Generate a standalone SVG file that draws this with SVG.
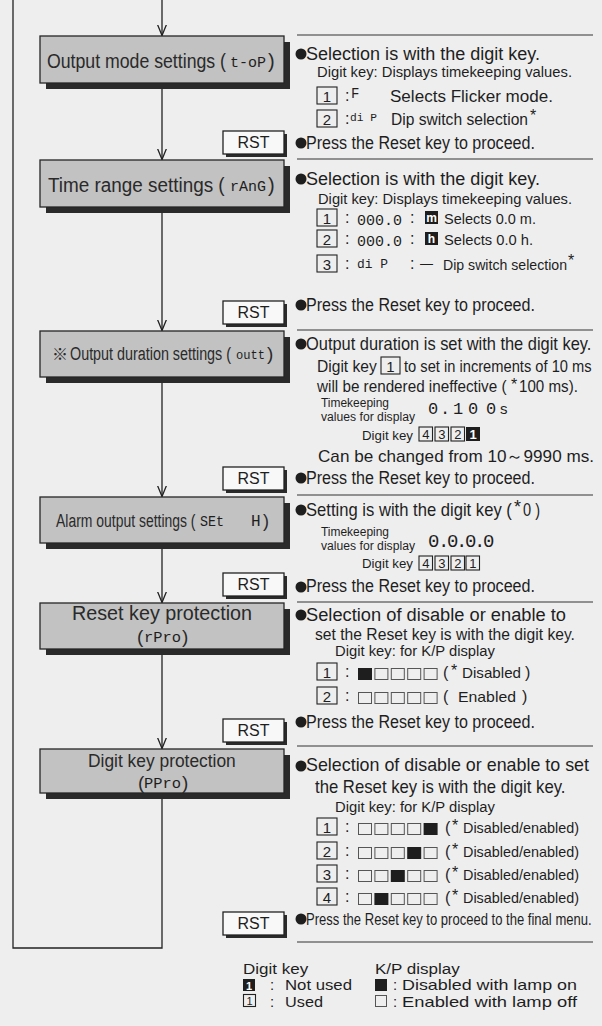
<svg xmlns="http://www.w3.org/2000/svg" width="602" height="1026" viewBox="0 0 602 1026">
<defs>
<style>
.t{font-family:"Liberation Sans",Arial,sans-serif;fill:#1e1e1e}
.f18{font-size:18px}.f17{font-size:17px}.f16{font-size:16px}.f15{font-size:15px}.f13{font-size:12px}
.seg{font-family:"Liberation Mono","DejaVu Sans Mono",monospace;fill:#1e1e1e}
.body{fill:#c2c2c2;stroke:#262626;stroke-width:1.3}
.shadow{fill:#2a2a2a}
.face{fill:#f8f8f8;stroke:#222;stroke-width:1.3}
.key{fill:none;stroke:#222;stroke-width:1.1}
.keyf{fill:#1e1e1e}
.sq{fill:none;stroke:#555;stroke-width:1}
.sqf{fill:#1e1e1e}
.sep{stroke:#333;stroke-width:1.2}
.conn{stroke:#222;stroke-width:1.3;fill:none}
.bul{fill:#1e1e1e}
.lbl{font-family:"Liberation Sans",Arial,sans-serif;fill:#2a2a2a}
.rst{font-family:"Liberation Sans",Arial,sans-serif;font-size:16px;fill:#1e1e1e;text-anchor:middle}
.kn{font-family:"Liberation Sans",Arial,sans-serif;font-size:15px;fill:#1e1e1e;text-anchor:middle}
.kw{font-family:"Liberation Sans",Arial,sans-serif;font-weight:bold;fill:#fff;text-anchor:middle}
.ks{font-family:"Liberation Sans",Arial,sans-serif;fill:#1e1e1e;text-anchor:middle}
</style>
<marker id="arr" markerUnits="userSpaceOnUse" markerWidth="14" markerHeight="12" viewBox="0 0 14 12" refX="11" refY="6" orient="auto"><path d="M0,1.5 L11,6 L0,10.5" fill="none" stroke="#222" stroke-width="1.3"/></marker>
</defs>
<rect x="0" y="0" width="602" height="1026" fill="#eeeeee"/>

<g id="connectors" class="conn">
<path d="M162,0 V35.5" marker-end="url(#arr)"/>
<path d="M162,83 V159.5" marker-end="url(#arr)"/>
<path d="M162,207 V330.5" marker-end="url(#arr)"/>
<path d="M162,377 V496.5" marker-end="url(#arr)"/>
<path d="M162,543 V602.5" marker-end="url(#arr)"/>
<path d="M162,649 V748.5" marker-end="url(#arr)"/>
<path d="M162,793 V948 H13 V0"/>
</g>

<g id="node-output-mode">
<rect class="shadow" x="46" y="42" width="244" height="47"/>
<rect class="body" x="40" y="36" width="244" height="47"/>
<text class="lbl" font-size="20" transform="translate(47,68) scale(0.885,1)">Output mode settings (</text>
<text class="seg" font-size="15.2" x="230" y="67" textLength="36" lengthAdjust="spacingAndGlyphs">t-oP</text>
<text class="lbl" font-size="20" x="268" y="68">)</text>
</g>
<g id="node-time-range">
<rect class="shadow" x="46" y="166" width="244" height="47"/>
<rect class="body" x="40" y="160" width="244" height="47"/>
<text class="lbl" font-size="20" transform="translate(48,192) scale(0.945,1)">Time range settings (</text>
<text class="seg" font-size="15.2" x="230" y="191" textLength="36" lengthAdjust="spacingAndGlyphs">rAnG</text>
<text class="lbl" font-size="20" x="268" y="192">)</text>
</g>
<g id="node-output-duration">
<rect class="shadow" x="46" y="337" width="244" height="46"/>
<rect class="body" x="40" y="331" width="244" height="46"/>
<text x="52" y="360" font-size="16" fill="#2a2a2a" font-family="'Noto Sans CJK JP','DejaVu Sans',sans-serif">※</text>
<text class="lbl" font-size="19" transform="translate(70,360) scale(0.755,1)">Output duration settings (</text>
<text class="seg" font-size="12.4" x="236" y="359" textLength="29" lengthAdjust="spacingAndGlyphs">outt</text>
<text class="lbl" font-size="19" x="267" y="360">)</text>
</g>
<g id="node-alarm-output">
<rect class="shadow" x="46" y="503" width="244" height="46"/>
<rect class="body" x="40" y="497" width="244" height="46"/>
<text class="lbl" font-size="18" transform="translate(56,527) scale(0.775,1)">Alarm output settings (</text>
<text class="seg" font-size="13.8" x="200" y="526" textLength="24" lengthAdjust="spacingAndGlyphs">SEt</text>
<text class="seg" font-size="16" x="251" y="526">H</text>
<text class="lbl" font-size="18" x="263" y="527">)</text>
</g>
<g id="node-reset-key-protection">
<rect class="shadow" x="46" y="609" width="244" height="46"/>
<rect class="body" x="40" y="603" width="244" height="46"/>
<text class="lbl" font-size="19.5" x="72" y="620" textLength="180" lengthAdjust="spacingAndGlyphs">Reset key protection</text>
<text class="lbl" font-size="19" x="137" y="643">(</text>
<text class="seg" font-size="15.5" x="144" y="642" textLength="37" lengthAdjust="spacingAndGlyphs">rPro</text>
<text class="lbl" font-size="19" x="182" y="643">)</text>
</g>
<g id="node-digit-key-protection">
<rect class="shadow" x="46" y="755" width="244" height="44"/>
<rect class="body" x="40" y="749" width="244" height="44"/>
<text class="lbl" font-size="19" transform="translate(88,767) scale(0.915,1)">Digit key protection</text>
<text class="lbl" font-size="19" x="138" y="789">(</text>
<text class="seg" font-size="15.5" x="144" y="788" textLength="37" lengthAdjust="spacingAndGlyphs">PPro</text>
<text class="lbl" font-size="19" x="182" y="789">)</text>
</g>

<g id="rst-1"><rect class="shadow" x="226" y="134" width="61" height="23"/><rect class="face" x="223" y="131" width="61" height="23"/><text class="rst" x="253.5" y="148">RST</text></g>
<g id="rst-2"><rect class="shadow" x="226" y="304" width="61" height="23"/><rect class="face" x="223" y="301" width="61" height="23"/><text class="rst" x="253.5" y="318">RST</text></g>
<g id="rst-3"><rect class="shadow" x="226" y="470" width="61" height="23"/><rect class="face" x="223" y="467" width="61" height="23"/><text class="rst" x="253.5" y="484">RST</text></g>
<g id="rst-4"><rect class="shadow" x="226" y="576" width="61" height="23"/><rect class="face" x="223" y="573" width="61" height="23"/><text class="rst" x="253.5" y="590">RST</text></g>
<g id="rst-5"><rect class="shadow" x="226" y="722" width="61" height="23"/><rect class="face" x="223" y="719" width="61" height="23"/><text class="rst" x="253.5" y="736">RST</text></g>
<g id="rst-6"><rect class="shadow" x="226" y="915" width="61" height="23"/><rect class="face" x="223" y="912" width="61" height="23"/><text class="rst" x="253.5" y="929">RST</text></g>

<g id="desc-output-mode">
<line class="sep" x1="297" y1="35" x2="593" y2="35"/>
<circle class="bul" cx="301" cy="54" r="5.5"/>
<text class="t f18" x="306" y="60" textLength="234" lengthAdjust="spacingAndGlyphs">Selection is with the digit key.</text>
<text class="t" font-size="14.7" x="317" y="77" textLength="255" lengthAdjust="spacingAndGlyphs">Digit key: Displays timekeeping values.</text>
<rect class="key" x="317" y="87" width="20" height="17"/><text class="kn" x="327" y="101.5">1</text>
<text class="t f16" x="345" y="101">:</text>
<text class="seg" font-size="14" x="351" y="98">F</text>
<text class="t f16" x="390" y="102" textLength="163" lengthAdjust="spacingAndGlyphs">Selects Flicker mode.</text>
<rect class="key" x="317" y="110" width="20" height="17"/><text class="kn" x="327" y="124.5">2</text>
<text class="t f16" x="345" y="124">:</text>
<text class="seg" font-size="11.5" x="350" y="121" textLength="27" lengthAdjust="spacingAndGlyphs">di P</text>
<text class="t" font-size="15.6" x="391" y="125" textLength="137" lengthAdjust="spacingAndGlyphs">Dip switch selection</text>
<text class="t f16" x="530" y="121">*</text>
<circle class="bul" cx="301" cy="143" r="5.5"/>
<text class="t f18" x="306" y="149" textLength="229" lengthAdjust="spacingAndGlyphs">Press the Reset key to proceed.</text>
</g>

<g id="desc-time-range">
<line class="sep" x1="297" y1="159" x2="593" y2="159"/>
<circle class="bul" cx="301" cy="179" r="5.5"/>
<text class="t f18" x="306" y="185" textLength="234" lengthAdjust="spacingAndGlyphs">Selection is with the digit key.</text>
<text class="t" font-size="14.7" x="318" y="204" textLength="254" lengthAdjust="spacingAndGlyphs">Digit key: Displays timekeeping values.</text>
<rect class="key" x="317" y="209" width="20" height="17"/><text class="kn" x="327" y="223.5">1</text>
<text class="t f16" x="345" y="223">:</text>
<text class="seg" font-size="15" x="357" y="225" textLength="45" lengthAdjust="spacingAndGlyphs">000.0</text>
<text class="t f16" x="410" y="223">:</text>
<rect class="keyf" x="425" y="211" width="13" height="13"/><text class="kw" font-size="12" x="431.5" y="222">m</text>
<text class="t f15" x="444" y="224" textLength="92" lengthAdjust="spacingAndGlyphs">Selects 0.0 m.</text>
<rect class="key" x="317" y="230" width="20" height="17"/><text class="kn" x="327" y="244.5">2</text>
<text class="t f16" x="345" y="244">:</text>
<text class="seg" font-size="15" x="357" y="246" textLength="45" lengthAdjust="spacingAndGlyphs">000.0</text>
<text class="t f16" x="410" y="244">:</text>
<rect class="keyf" x="425" y="232" width="13" height="13"/><text class="kw" font-size="12" x="431.5" y="243">h</text>
<text class="t f15" x="444" y="245" textLength="89" lengthAdjust="spacingAndGlyphs">Selects 0.0 h.</text>
<rect class="key" x="317" y="255" width="20" height="17"/><text class="kn" x="327" y="269.5">3</text>
<text class="t f16" x="345" y="269">:</text>
<text class="seg" font-size="12.9" x="357" y="268" textLength="31" lengthAdjust="spacingAndGlyphs">di P</text>
<text class="t f16" x="410" y="269">:</text>
<text class="t f15" x="420" y="268" textLength="13" lengthAdjust="spacingAndGlyphs">—</text>
<text class="t" font-size="14.2" x="443" y="270" textLength="124" lengthAdjust="spacingAndGlyphs">Dip switch selection</text>
<text class="t f16" x="568" y="266">*</text>
<circle class="bul" cx="301" cy="305" r="5.5"/>
<text class="t f18" x="306" y="311" textLength="229" lengthAdjust="spacingAndGlyphs">Press the Reset key to proceed.</text>
</g>

<g id="desc-output-duration">
<line class="sep" x1="297" y1="330" x2="593" y2="330"/>
<circle class="bul" cx="301" cy="344" r="5.5"/>
<text class="t" font-size="18" transform="translate(306,350) scale(0.913,1)">Output duration is set with the digit key.</text>
<text class="t" font-size="16.5" transform="translate(317,372) scale(0.945,1)">Digit key</text>
<rect class="key" x="381" y="357" width="19" height="17"/><text class="kn" x="390.5" y="371.5">1</text>
<text class="t" font-size="16.5" transform="translate(404,372) scale(0.89,1)">to set in increments of 10 ms</text>
<text class="t" font-size="16.5" transform="translate(317,392) scale(0.925,1)">will be rendered ineffective (</text>
<text class="t f16" x="511" y="390">*</text>
<text class="t" font-size="16.5" transform="translate(519,392) scale(0.918,1)">100 ms).</text>
<text class="t f13" x="321" y="407" textLength="68" lengthAdjust="spacingAndGlyphs">Timekeeping</text>
<text class="t f13" x="321" y="421" textLength="94" lengthAdjust="spacingAndGlyphs">values for display</text>
<text class="seg" font-size="17" x="428 440 453 468 486" y="414">0.100</text>
<text class="t f15" x="500" y="414">s</text>
<text class="t" font-size="13.3" x="362" y="440" textLength="51" lengthAdjust="spacingAndGlyphs">Digit key</text>
<rect class="key" x="419" y="427" width="13.5" height="14"/><text class="ks" style="font-size:13px" x="425.8" y="439">4</text>
<rect class="key" x="435" y="427" width="13.5" height="14"/><text class="ks" style="font-size:13px" x="441.8" y="439">3</text>
<rect class="key" x="451" y="427" width="13.5" height="14"/><text class="ks" style="font-size:13px" x="457.8" y="439">2</text>
<rect class="keyf" x="466" y="427" width="14" height="14"/><text class="kw" font-size="13" x="473" y="439">1</text>
<text class="t f17" x="318" y="462" textLength="276" lengthAdjust="spacingAndGlyphs">Can be changed from 10～9990 ms.</text>
<circle class="bul" cx="301" cy="478" r="5.5"/>
<text class="t f18" x="306" y="484" textLength="229" lengthAdjust="spacingAndGlyphs">Press the Reset key to proceed.</text>
</g>

<g id="desc-alarm-output">
<line class="sep" x1="297" y1="495" x2="593" y2="495"/>
<circle class="bul" cx="301" cy="510" r="5.5"/>
<text class="t" font-size="18" transform="translate(306,516) scale(0.923,1)">Setting is with the digit key (</text>
<text class="t f18" x="514" y="513">*</text>
<text class="t f18" x="523" y="516" textLength="17" lengthAdjust="spacingAndGlyphs">0 )</text>
<text class="t f13" x="321" y="536" textLength="68" lengthAdjust="spacingAndGlyphs">Timekeeping</text>
<text class="t f13" x="321" y="550" textLength="94" lengthAdjust="spacingAndGlyphs">values for display</text>
<text class="seg" font-size="19" x="428 438 447 456 465 474 483" y="547">0.0.0.0</text>
<text class="t" font-size="13.3" x="362" y="568" textLength="51" lengthAdjust="spacingAndGlyphs">Digit key</text>
<rect class="key" x="419" y="556" width="13.5" height="14"/><text class="ks" style="font-size:13px" x="425.8" y="568">4</text>
<rect class="key" x="435" y="556" width="13.5" height="14"/><text class="ks" style="font-size:13px" x="441.8" y="568">3</text>
<rect class="key" x="451" y="556" width="13.5" height="14"/><text class="ks" style="font-size:13px" x="457.8" y="568">2</text>
<rect class="key" x="466" y="556" width="13.5" height="14"/><text class="ks" style="font-size:13px" x="472.8" y="568">1</text>
<circle class="bul" cx="301" cy="587" r="5.5"/>
<text class="t f18" x="306" y="592" textLength="229" lengthAdjust="spacingAndGlyphs">Press the Reset key to proceed.</text>
</g>

<g id="desc-reset-key-protection">
<line class="sep" x1="297" y1="602" x2="593" y2="602"/>
<circle class="bul" cx="301" cy="615" r="5.5"/>
<text class="t f18" x="306" y="621" textLength="260" lengthAdjust="spacingAndGlyphs">Selection of disable or enable to</text>
<text class="t" font-size="16.5" transform="translate(315,640) scale(0.95,1)">set the Reset key is with the digit key.</text>
<text class="t" font-size="14.7" x="335" y="656" textLength="160" lengthAdjust="spacingAndGlyphs">Digit key: for K/P display</text>
<rect class="key" x="317" y="663" width="20" height="17"/><text class="kn" x="327" y="677.5">1</text>
<text class="t f16" x="345" y="677">:</text>
<rect class="sqf" x="358" y="668" width="14" height="12"/>
<rect class="sq" x="374.9" y="668.5" width="13" height="11"/>
<rect class="sq" x="391.3" y="668.5" width="13" height="11"/>
<rect class="sq" x="407.7" y="668.5" width="13" height="11"/>
<rect class="sq" x="424.1" y="668.5" width="13" height="11"/>
<text class="t f16" x="443" y="678">(</text>
<text class="t f16" x="451" y="676">*</text>
<text class="t f15" x="462" y="678" textLength="59" lengthAdjust="spacingAndGlyphs">Disabled</text>
<text class="t f16" x="525" y="678">)</text>
<rect class="key" x="317" y="687" width="20" height="17"/><text class="kn" x="327" y="701.5">2</text>
<text class="t f16" x="345" y="701">:</text>
<rect class="sq" x="358.5" y="692.5" width="13" height="11"/>
<rect class="sq" x="374.9" y="692.5" width="13" height="11"/>
<rect class="sq" x="391.3" y="692.5" width="13" height="11"/>
<rect class="sq" x="407.7" y="692.5" width="13" height="11"/>
<rect class="sq" x="424.1" y="692.5" width="13" height="11"/>
<text class="t f16" x="443" y="702">(</text>
<text class="t f15" x="458" y="702" textLength="58" lengthAdjust="spacingAndGlyphs">Enabled</text>
<text class="t f16" x="522" y="702">)</text>
<circle class="bul" cx="301" cy="722" r="5.5"/>
<text class="t f18" x="306" y="728" textLength="229" lengthAdjust="spacingAndGlyphs">Press the Reset key to proceed.</text>
</g>

<g id="desc-digit-key-protection">
<line class="sep" x1="297" y1="746" x2="593" y2="746"/>
<circle class="bul" cx="301" cy="766" r="5.5"/>
<text class="t" font-size="17.8" x="306" y="771" textLength="283" lengthAdjust="spacingAndGlyphs">Selection of disable or enable to set</text>
<text class="t" font-size="17.5" transform="translate(315,793) scale(0.955,1)">the Reset key is with the digit key.</text>
<text class="t" font-size="14.7" x="335" y="812" textLength="160" lengthAdjust="spacingAndGlyphs">Digit key: for K/P display</text>

<rect class="key" x="317" y="818" width="20" height="17"/><text class="kn" x="327" y="832.5">1</text>
<text class="t f16" x="345" y="832">:</text>
<rect class="sq" x="358.5" y="823.5" width="13" height="11"/>
<rect class="sq" x="374.9" y="823.5" width="13" height="11"/>
<rect class="sq" x="391.3" y="823.5" width="13" height="11"/>
<rect class="sq" x="407.7" y="823.5" width="13" height="11"/>
<rect class="sqf" x="423.6" y="823" width="14" height="12"/>
<text class="t f16" x="445" y="833">(</text>
<text class="t f16" x="452" y="831">*</text>
<text class="t" font-size="14.4" x="463" y="833" textLength="116" lengthAdjust="spacingAndGlyphs">Disabled/enabled)</text>

<rect class="key" x="317" y="842" width="20" height="17"/><text class="kn" x="327" y="856.5">2</text>
<text class="t f16" x="345" y="856">:</text>
<rect class="sq" x="358.5" y="847.5" width="13" height="11"/>
<rect class="sq" x="374.9" y="847.5" width="13" height="11"/>
<rect class="sq" x="391.3" y="847.5" width="13" height="11"/>
<rect class="sqf" x="407.2" y="847" width="14" height="12"/>
<rect class="sq" x="424.1" y="847.5" width="13" height="11"/>
<text class="t f16" x="445" y="857">(</text>
<text class="t f16" x="452" y="855">*</text>
<text class="t" font-size="14.4" x="463" y="857" textLength="116" lengthAdjust="spacingAndGlyphs">Disabled/enabled)</text>

<rect class="key" x="317" y="865" width="20" height="17"/><text class="kn" x="327" y="879.5">3</text>
<text class="t f16" x="345" y="879">:</text>
<rect class="sq" x="358.5" y="870.5" width="13" height="11"/>
<rect class="sq" x="374.9" y="870.5" width="13" height="11"/>
<rect class="sqf" x="390.8" y="870" width="14" height="12"/>
<rect class="sq" x="407.7" y="870.5" width="13" height="11"/>
<rect class="sq" x="424.1" y="870.5" width="13" height="11"/>
<text class="t f16" x="445" y="880">(</text>
<text class="t f16" x="452" y="878">*</text>
<text class="t" font-size="14.4" x="463" y="880" textLength="116" lengthAdjust="spacingAndGlyphs">Disabled/enabled)</text>

<rect class="key" x="317" y="888" width="20" height="17"/><text class="kn" x="327" y="902.5">4</text>
<text class="t f16" x="345" y="902">:</text>
<rect class="sq" x="358.5" y="893.5" width="13" height="11"/>
<rect class="sqf" x="374.4" y="893" width="14" height="12"/>
<rect class="sq" x="391.3" y="893.5" width="13" height="11"/>
<rect class="sq" x="407.7" y="893.5" width="13" height="11"/>
<rect class="sq" x="424.1" y="893.5" width="13" height="11"/>
<text class="t f16" x="445" y="903">(</text>
<text class="t f16" x="452" y="901">*</text>
<text class="t" font-size="14.4" x="463" y="903" textLength="116" lengthAdjust="spacingAndGlyphs">Disabled/enabled)</text>

<circle class="bul" cx="301" cy="919" r="5.5"/>
<text class="t f17" transform="translate(306,925) scale(0.768,1)">Press the Reset key to proceed to the final menu.</text>
<line class="sep" x1="297" y1="942" x2="593" y2="942"/>
</g>

<g id="legend">
<text class="t" font-size="14.8" transform="translate(243,973.5) scale(1.15,1)">Digit key</text>
<text class="t" font-size="14.8" transform="translate(375,973.5) scale(1.15,1)">K/P display</text>
<rect class="keyf" x="243" y="979" width="12" height="12"/><text class="kw" font-size="11" x="249" y="989.5">1</text>
<text class="t" font-size="14.8" x="270" y="990">:</text>
<text class="t" font-size="14.8" x="285" y="990" textLength="67" lengthAdjust="spacingAndGlyphs">Not used</text>
<rect class="sqf" x="375" y="979" width="12" height="12"/>
<text class="t" font-size="14.8" x="393" y="990">:</text>
<text class="t" font-size="14.8" x="402" y="990" textLength="175" lengthAdjust="spacingAndGlyphs">Disabled with lamp on</text>
<rect class="key" x="243.5" y="994.5" width="12" height="12"/><text class="ks" style="font-size:11px" x="249.5" y="1005">1</text>
<text class="t" font-size="14.8" x="270" y="1006.5">:</text>
<text class="t" font-size="14.8" x="285" y="1006.5" textLength="38" lengthAdjust="spacingAndGlyphs">Used</text>
<rect class="sq" x="375.5" y="995.5" width="11" height="11"/>
<text class="t" font-size="14.8" x="393" y="1006.5">:</text>
<text class="t" font-size="14.8" x="402" y="1006.5" textLength="175" lengthAdjust="spacingAndGlyphs">Enabled with lamp off</text>
</g>
</svg>
